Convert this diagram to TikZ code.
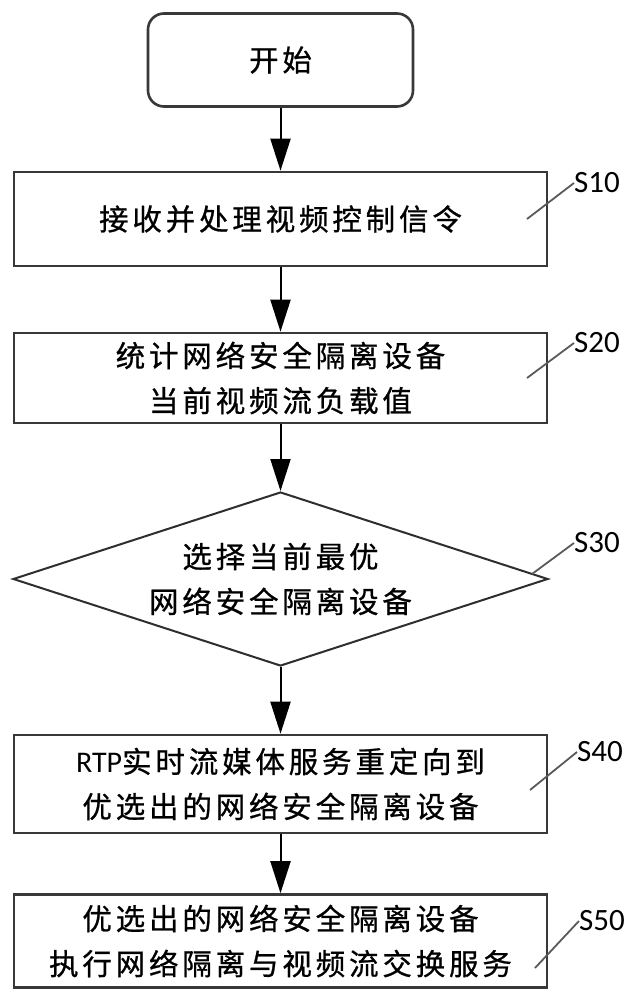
\documentclass[tikz,border=0pt]{standalone}
\usepackage{fontspec}
\newfontfamily\cjk[LetterSpace=13,FakeBold=0.8]{Noto Sans CJK SC}
\newfontfamily\lbl{Carlito}
\usetikzlibrary{shapes.geometric,arrows.meta}
\tikzset{
  txt/.style={align=center,inner sep=0pt,font=\cjk\fontsize{29.5pt}{45pt}\selectfont},
  box/.style={txt,draw=black!78,line width=2.6pt,minimum width=533pt},
  startbox/.style={txt,draw=black!78,line width=2.6pt,rounded corners=16pt,minimum width=265pt,minimum height=93pt},
  decide/.style={txt,diamond,aspect=3.07,draw=black!82,line width=2pt,minimum width=535pt,minimum height=174pt},
  steplabel/.style={inner sep=0pt,font=\lbl\fontsize{31pt}{31pt}\selectfont},
  arr/.style={-{Triangle[length=32pt,width=20pt]},line width=2pt,black},
  lead/.style={line width=1.8pt,black!65}
}
\begin{document}
\begin{tikzpicture}[x=1pt,y=-1pt]
\useasboundingbox (0,0) rectangle (641,1000);
% flow steps
\node[startbox] (start) at (280.5,60) {开始};
\node[box,minimum height=94pt] (s10) at (280.5,219) {接收并处理视频控制信令};
\node[box,minimum height=90pt] (s20) at (280.5,378) {统计网络安全隔离设备\\当前视频流负载值};
\node[decide] (s30) at (280.5,579) {选择当前最优\\网络安全隔离设备};
\node[box,minimum height=98pt] (s40) at (280.5,784) {{\lbl\fontsize{30pt}{45pt}\selectfont RTP}实时流媒体服务重定向到\\优选出的网络安全隔离设备};
\node[box,minimum height=93pt] (s50) at (280.5,941) {优选出的网络安全隔离设备\\执行网络隔离与视频流交换服务};
% arrows
\draw[arr] (start)--(s10);
\draw[arr] (s10)--(s20);
\draw[arr] (s20)--(s30);
\draw[arr] (s30)--(s40);
\draw[arr] (s40)--(s50);
% step labels
\node[steplabel] (l10) at (597,183) {S10};
\node[steplabel] (l20) at (597,343) {S20};
\node[steplabel] (l30) at (597,543) {S30};
\node[steplabel] (l40) at (600,752) {S40};
\node[steplabel] (l50) at (602,921) {S50};
\coordinate (p10) at (527,219);
\coordinate (p20) at (527,378);
\coordinate (p30) at (532,574);
\coordinate (p40) at (530,790);
\coordinate (p50) at (535,968);
\draw[lead] (p10)--(l10.west);
\draw[lead] (p20)--(l20.west);
\draw[lead] (p30)--(l30.west);
\draw[lead] (p40)--(l40.west);
\draw[lead] (p50)--(l50.west);
\end{tikzpicture}
\end{document}
